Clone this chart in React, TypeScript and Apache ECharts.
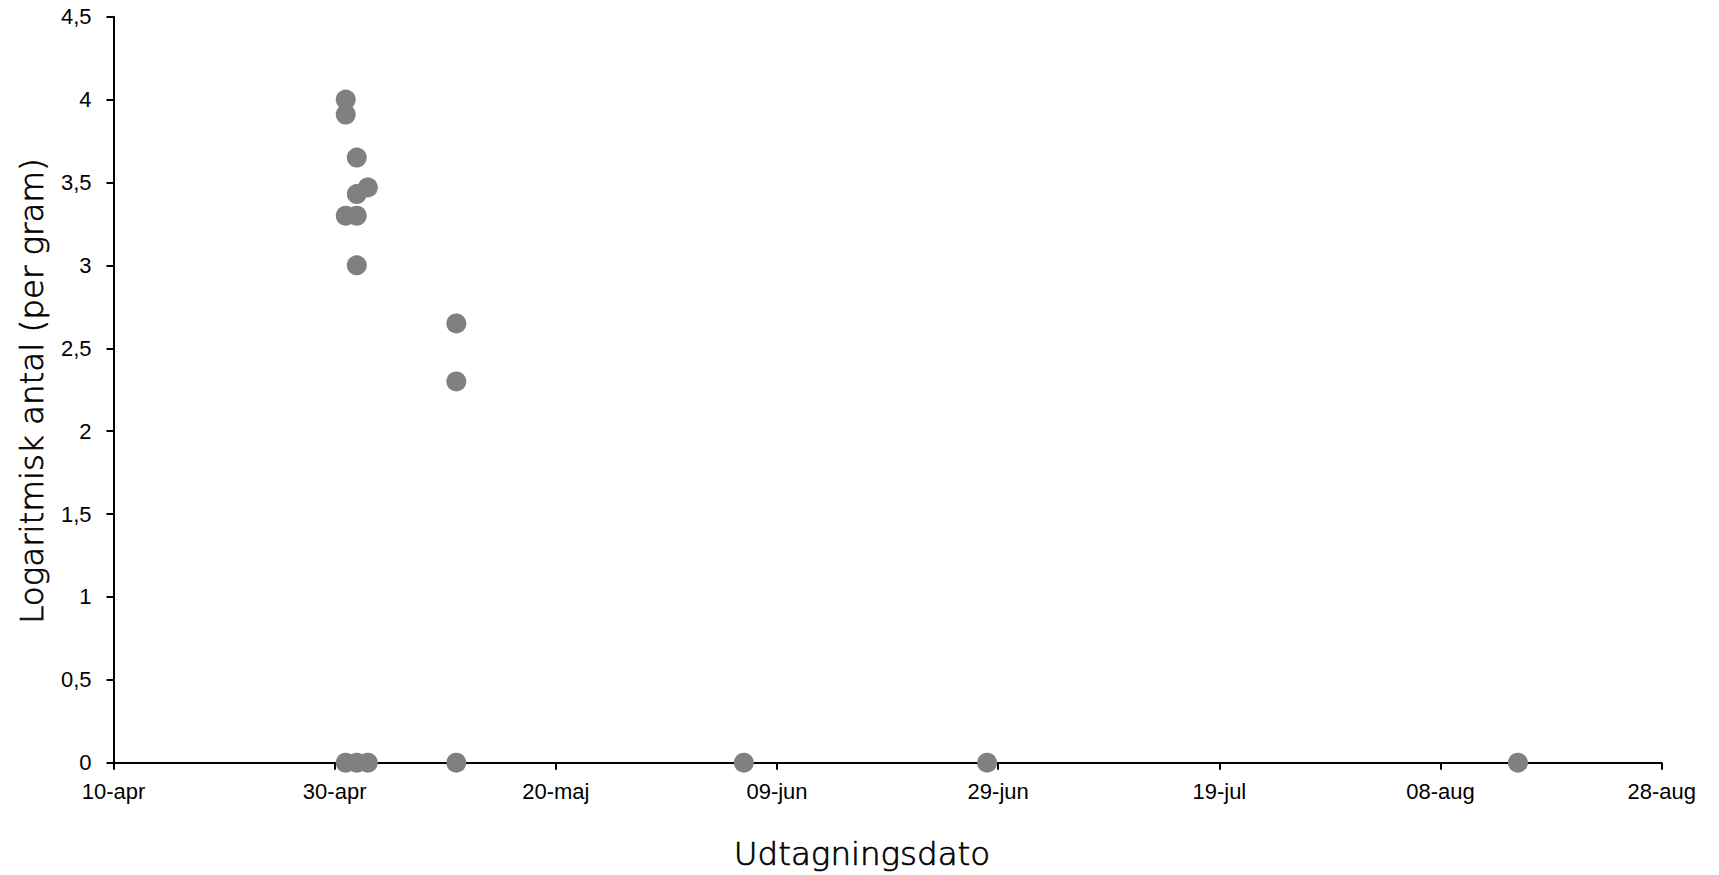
import React, { useEffect, useRef } from "react";
import * as echarts from "echarts";

// Sampling dates (MM-DD) and log counts per gram
const sampleDates = [
  "05-01", "05-01", "05-01", "05-01",
  "05-02", "05-02", "05-02", "05-02", "05-02",
  "05-03", "05-03",
  "05-11", "05-11", "05-11",
  "06-06",
  "06-28",
  "08-15",
];
const logCounts = [
  4.0, 3.91, 3.3, 0,
  3.65, 3.43, 3.3, 3.0, 0,
  3.47, 0,
  2.65, 2.3, 0,
  0,
  0,
  0,
];

const startDate = "04-10";
const xTickLabels = ["10-apr", "30-apr", "20-maj", "09-jun", "29-jun", "19-jul", "08-aug", "28-aug"];
const yTickLabels = ["0", "0,5", "1", "1,5", "2", "2,5", "3", "3,5", "4", "4,5"];

const xTitle = "Udtagningsdato";
const yTitle = "Logaritmisk antal (per gram)";

function dayOffset(mmdd: string): number {
  const [m, d] = mmdd.split("-").map(Number);
  const [m0, d0] = startDate.split("-").map(Number);
  const t = Date.UTC(2021, m - 1, d);
  const t0 = Date.UTC(2021, m0 - 1, d0);
  return Math.round((t - t0) / 86400000);
}

export default function App() {
  const ref = useRef<HTMLDivElement>(null);
  useEffect(() => {
    document.body.style.margin = "0";
    if (!ref.current) return;
    const chart = echarts.init(ref.current, null, { renderer: "svg" });
    const data = sampleDates.map((d, i) => [dayOffset(d), logCounts[i]]);
    const labelFont = { fontFamily: "Liberation Sans, Arial, sans-serif", fontSize: 22, color: "#000" };
    const titleStyle = {
      fontFamily: "DejaVu Sans",
      fontSize: 32.5,
      fontWeight: 200 as any,
      fill: "#000",
      stroke: "#000",
      lineWidth: 0.7,
    };
    chart.setOption({
      animation: false,
      backgroundColor: "#fff",
      grid: { left: 113.5, right: 57.3, top: 16.7, bottom: 112.3, containLabel: false },
      xAxis: {
        type: "value",
        min: 0,
        max: 140,
        interval: 20,
        splitLine: { show: false },
        axisLine: { show: true, onZero: false, lineStyle: { color: "#000", width: 2 } },
        axisTick: { show: true, length: 7, lineStyle: { color: "#000", width: 2 } },
        axisLabel: {
          ...labelFont,
          margin: 18,
          formatter: (_v: number, i: number) => xTickLabels[i] ?? "",
        },
      },
      yAxis: {
        type: "value",
        min: 0,
        max: 4.5,
        interval: 0.5,
        splitLine: { show: false },
        axisLine: { show: true, onZero: false, lineStyle: { color: "#000", width: 2 } },
        axisTick: { show: true, length: 7, lineStyle: { color: "#000", width: 2 } },
        axisLabel: {
          ...labelFont,
          margin: 22,
          formatter: (_v: number, i: number) => yTickLabels[i] ?? "",
        },
      },
      series: [
        {
          type: "scatter",
          data,
          symbol: "circle",
          symbolSize: 20,
          itemStyle: { color: "#808080", opacity: 1 },
          z: 3,
        },
      ],
      graphic: [
        {
          type: "text",
          x: 862,
          y: 854,
          style: { ...titleStyle, text: xTitle, align: "center", verticalAlign: "middle" },
        },
        {
          type: "text",
          x: 32,
          y: 391,
          rotation: Math.PI / 2,
          style: { ...titleStyle, text: yTitle, align: "center", verticalAlign: "middle" },
        },
      ],
    });
    return () => chart.dispose();
  }, []);
  return <div ref={ref} style={{ width: 1719, height: 875 }} />;
}
